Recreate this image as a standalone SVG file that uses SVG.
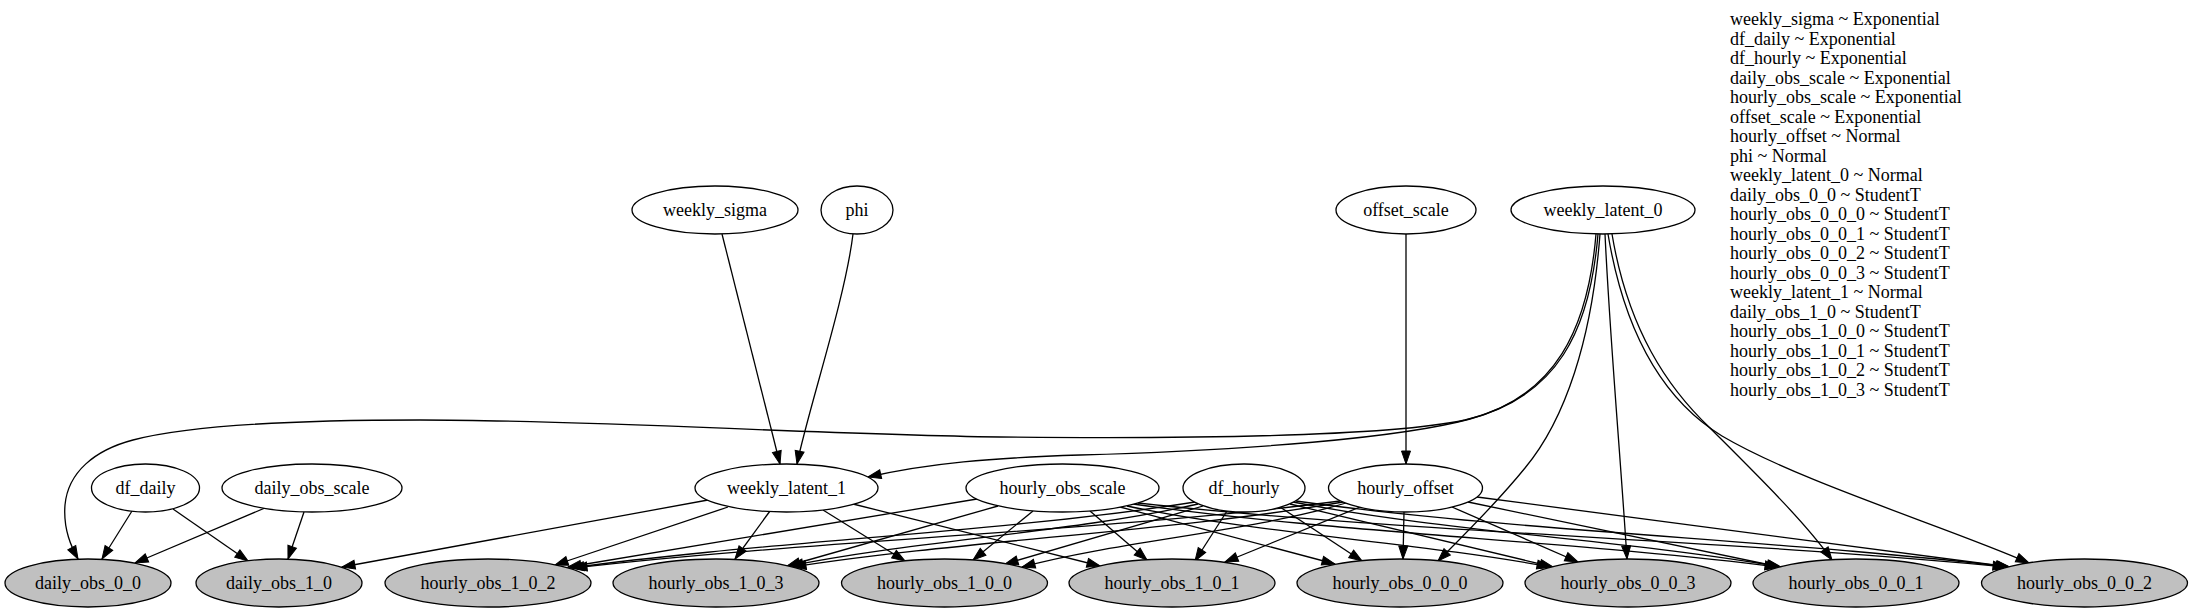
<svg xmlns="http://www.w3.org/2000/svg" width="2192" height="613" viewBox="0 0 2192 613">
<defs>
<style>
.n ellipse{fill:#ffffff;stroke:#000;stroke-width:1.3}
.o ellipse{fill:#c0c0c0;stroke:#000;stroke-width:1.3}
text{font-family:"Liberation Serif","Times New Roman",serif;font-size:18px;fill:#000}
.n text,.o text{text-anchor:middle}
#edges path{fill:none;stroke:#000;stroke-width:1.3;marker-end:url(#arr)}
</style>
<marker id="arr" markerUnits="userSpaceOnUse" markerWidth="15" markerHeight="11" refX="13" refY="4.5" orient="auto" overflow="visible">
<path d="M0,0 L13,4.5 L0,9 z" fill="#000" stroke="#000" stroke-width="1"/>
</marker>
</defs>
<rect width="2192" height="613" fill="#fff"/>
<g id="edges">
<path d="M722,234 L780,464"/>
<path d="M853,234 C845,300 808,410 797,464"/>
<path d="M1596,234 C1588,330 1555,396 1470,419 C1400,438 1250,450 1080,455 C990,458 930,463 868,477"/>
<path d="M1406,234 L1406,464"/>
<path d="M1598,234 C1590,330 1558,398 1465,420 C1390,436 1200,439 1000,437 C800,434 600,420 420,420 C300,420 190,425 133,440 C95,450 68,472 65,505 C63,530 72,548 78,559"/>
<path d="M1600,234 C1592,340 1565,420 1525,468 C1495,505 1462,537 1438,561"/>
<path d="M1605,234 C1610,340 1620,450 1627,559"/>
<path d="M1612,234 C1628,330 1668,388 1710,428 C1758,476 1805,522 1832,560"/>
<path d="M1608,234 C1624,330 1660,398 1722,436 C1800,482 1950,528 2029,563"/>
<path d="M708,500 L342,567"/>
<path d="M728,507 L555,565"/>
<path d="M770,511 L735,559"/>
<path d="M823,510 L905,561"/>
<path d="M853,504 L1100,566"/>
<path d="M132,511 L102,559"/>
<path d="M173,509 L248,561"/>
<path d="M265,508 L135,563"/>
<path d="M304,512 L288,559"/>
<path d="M977,499 L568,567"/>
<path d="M998,506 L787,566"/>
<path d="M1033,511 L973,560"/>
<path d="M1090,511 L1147,560"/>
<path d="M1120,507 L1335,564"/>
<path d="M1127,506 C1254,533 1423,543 1550,567"/>
<path d="M1133,504 C1326,532 1584,542 1778,567"/>
<path d="M1138,503 C1398,532 1746,541 2006,567"/>
<path d="M1195,502 C1008,532 758,542 571,568"/>
<path d="M1198,504 C1076,532 912,541 790,566"/>
<path d="M1203,506 L1005,564"/>
<path d="M1227,511 L1195,561"/>
<path d="M1280,507 L1362,561"/>
<path d="M1290,504 L1553,567"/>
<path d="M1293,502 C1439,531 1635,541 1781,567"/>
<path d="M1296,501 C1510,531 1795,541 2009,567"/>
<path d="M1340,501 C1110,531 804,541 574,568"/>
<path d="M1343,502 C1178,531 958,541 793,567"/>
<path d="M1346,503 C1249,532 1119,541 1022,567"/>
<path d="M1360,507 L1225,562"/>
<path d="M1404,512 L1403,559"/>
<path d="M1452,507 L1578,562"/>
<path d="M1468,502 L1780,567"/>
<path d="M1477,497 L2010,567"/>
</g>
<g id="weekly_sigma" class="n"><ellipse cx="715" cy="210" rx="83" ry="24"/><text x="715" y="216">weekly_sigma</text></g>
<g id="phi" class="n"><ellipse cx="857" cy="210" rx="36" ry="24"/><text x="857" y="216">phi</text></g>
<g id="offset_scale" class="n"><ellipse cx="1406" cy="210" rx="70" ry="24"/><text x="1406" y="216">offset_scale</text></g>
<g id="weekly_latent_0" class="n"><ellipse cx="1603" cy="210" rx="92" ry="24"/><text x="1603" y="216">weekly_latent_0</text></g>
<g id="df_daily" class="n"><ellipse cx="145.5" cy="488" rx="54" ry="24"/><text x="145.5" y="494">df_daily</text></g>
<g id="daily_obs_scale" class="n"><ellipse cx="312" cy="488" rx="90" ry="24"/><text x="312" y="494">daily_obs_scale</text></g>
<g id="weekly_latent_1" class="n"><ellipse cx="786.5" cy="488" rx="91.5" ry="24"/><text x="786.5" y="494">weekly_latent_1</text></g>
<g id="hourly_obs_scale" class="n"><ellipse cx="1062.5" cy="488" rx="96.5" ry="24"/><text x="1062.5" y="494">hourly_obs_scale</text></g>
<g id="df_hourly" class="n"><ellipse cx="1244" cy="488" rx="61" ry="24"/><text x="1244" y="494">df_hourly</text></g>
<g id="hourly_offset" class="n"><ellipse cx="1405.5" cy="488" rx="77" ry="24"/><text x="1405.5" y="494">hourly_offset</text></g>
<g id="daily_obs_0_0" class="o"><ellipse cx="88" cy="583" rx="83" ry="24"/><text x="88" y="589">daily_obs_0_0</text></g>
<g id="daily_obs_1_0" class="o"><ellipse cx="279" cy="583" rx="83" ry="24"/><text x="279" y="589">daily_obs_1_0</text></g>
<g id="hourly_obs_1_0_2" class="o"><ellipse cx="488" cy="583" rx="103" ry="24"/><text x="488" y="589">hourly_obs_1_0_2</text></g>
<g id="hourly_obs_1_0_3" class="o"><ellipse cx="716" cy="583" rx="103" ry="24"/><text x="716" y="589">hourly_obs_1_0_3</text></g>
<g id="hourly_obs_1_0_0" class="o"><ellipse cx="944.5" cy="583" rx="103" ry="24"/><text x="944.5" y="589">hourly_obs_1_0_0</text></g>
<g id="hourly_obs_1_0_1" class="o"><ellipse cx="1172" cy="583" rx="103" ry="24"/><text x="1172" y="589">hourly_obs_1_0_1</text></g>
<g id="hourly_obs_0_0_0" class="o"><ellipse cx="1400" cy="583" rx="103" ry="24"/><text x="1400" y="589">hourly_obs_0_0_0</text></g>
<g id="hourly_obs_0_0_3" class="o"><ellipse cx="1628" cy="583" rx="103" ry="24"/><text x="1628" y="589">hourly_obs_0_0_3</text></g>
<g id="hourly_obs_0_0_1" class="o"><ellipse cx="1856" cy="583" rx="103" ry="24"/><text x="1856" y="589">hourly_obs_0_0_1</text></g>
<g id="hourly_obs_0_0_2" class="o"><ellipse cx="2084.5" cy="583" rx="103" ry="24"/><text x="2084.5" y="589">hourly_obs_0_0_2</text></g>
<g id="legend">
<text x="1730" y="25">weekly_sigma ~ Exponential</text>
<text x="1730" y="44.5">df_daily ~ Exponential</text>
<text x="1730" y="64">df_hourly ~ Exponential</text>
<text x="1730" y="83.5">daily_obs_scale ~ Exponential</text>
<text x="1730" y="103">hourly_obs_scale ~ Exponential</text>
<text x="1730" y="122.5">offset_scale ~ Exponential</text>
<text x="1730" y="142">hourly_offset ~ Normal</text>
<text x="1730" y="161.5">phi ~ Normal</text>
<text x="1730" y="181">weekly_latent_0 ~ Normal</text>
<text x="1730" y="200.5">daily_obs_0_0 ~ StudentT</text>
<text x="1730" y="220">hourly_obs_0_0_0 ~ StudentT</text>
<text x="1730" y="239.5">hourly_obs_0_0_1 ~ StudentT</text>
<text x="1730" y="259">hourly_obs_0_0_2 ~ StudentT</text>
<text x="1730" y="278.5">hourly_obs_0_0_3 ~ StudentT</text>
<text x="1730" y="298">weekly_latent_1 ~ Normal</text>
<text x="1730" y="317.5">daily_obs_1_0 ~ StudentT</text>
<text x="1730" y="337">hourly_obs_1_0_0 ~ StudentT</text>
<text x="1730" y="356.5">hourly_obs_1_0_1 ~ StudentT</text>
<text x="1730" y="376">hourly_obs_1_0_2 ~ StudentT</text>
<text x="1730" y="395.5">hourly_obs_1_0_3 ~ StudentT</text>
</g>
</svg>
